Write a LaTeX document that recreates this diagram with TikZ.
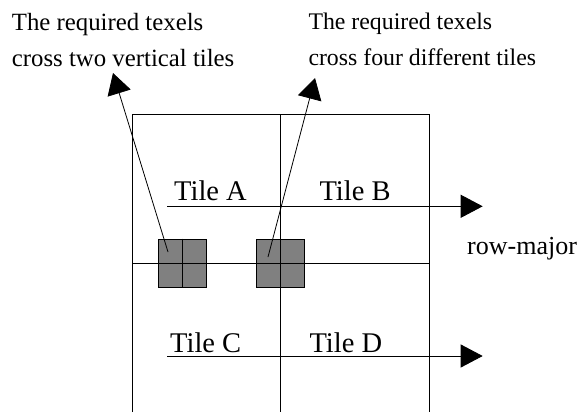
\documentclass[tikz,border=0pt]{standalone}
\usepackage{fontspec}
\setmainfont{Liberation Serif}
\usetikzlibrary{arrows.meta}
\tikzset{
  gridline/.style={line width=0.9pt, black},
  texelbox/.style={draw=black, line width=0.9pt, fill=black!50, minimum size=48pt, inner sep=0pt},
  flow/.style={line width=0.9pt, -{Triangle[length=22pt,width=23pt]}},
  pointer/.style={line width=0.8pt, -{Triangle[length=21pt,width=24pt]}},
  tilelabel/.style={anchor=base west, inner sep=0pt, font=\fontsize{28.5}{30}\selectfont},
  note/.style={anchor=base west, inner sep=0pt, align=left}
}
\begin{document}
\begin{tikzpicture}[x=1pt,y=-1pt]
  \useasboundingbox (0,0) rectangle (580,412);

  % tile grid (open at the bottom)
  \coordinate (gtl) at (132,114);
  \coordinate (gtr) at (429,114);
  \coordinate (gbl) at (132,412);
  \coordinate (gbr) at (429,412);
  \coordinate (gmt) at (280.5,114);
  \coordinate (gmb) at (280.5,412);
  \coordinate (gml) at (132,263);
  \coordinate (gmr) at (429,263);

  % texel footprints
  \node[texelbox] (s1) at (182,263) {};
  \node[texelbox] (s2) at (280.5,263) {};

  \draw[gridline] (gbl) -- (gtl) -- (gtr) -- (gbr);
  \draw[gridline] (gmt) -- (gmb);
  \draw[gridline] (gml) -- (gmr);
  \draw[gridline] (s1.north) -- (s1.south);
  \draw[gridline] (s1.west) -- (s1.east);
  \draw[gridline] (s2.north) -- (s2.south);
  \draw[gridline] (s2.west) -- (s2.east);

  % tile names
  \node[tilelabel] (ta) at (174,200.7) {Tile A};
  \node[tilelabel] (tb) at (319.3,200.7) {Tile B};
  \node[tilelabel] (tc) at (170,352.3) {Tile C};
  \node[tilelabel] (td) at (309.3,352.3) {Tile D};

  % row-major traversal
  \coordinate (r1s) at (167.3,206.3);
  \coordinate (r1e) at (482.7,206.3);
  \coordinate (r2s) at (167.3,356);
  \coordinate (r2e) at (482.7,356);
  \draw[flow] (r1s) -- (r1e);
  \draw[flow] (r2s) -- (r2e);
  \node[anchor=base west, inner sep=0pt, font=\fontsize{26}{28}\selectfont] (rm) at (467,254) {row-major};

  % explanatory notes (anchored at the baseline of the last line)
  \node[note, font=\fontsize{24.8}{36.7}\selectfont] (n1) at (11.7,66.7) {The required texels\\cross two vertical tiles};
  \node[note, font=\fontsize{23.8}{35.7}\selectfont] (n2) at (308.3,65) {The required texels\\cross four different tiles};

  \coordinate (p1) at (168,252);
  \coordinate (t1) at (113,73);
  \coordinate (p2) at (268,257);
  \coordinate (t2) at (315,78);
  \draw[pointer] (p1) -- (t1);
  \draw[pointer] (p2) -- (t2);
\end{tikzpicture}
\end{document}
